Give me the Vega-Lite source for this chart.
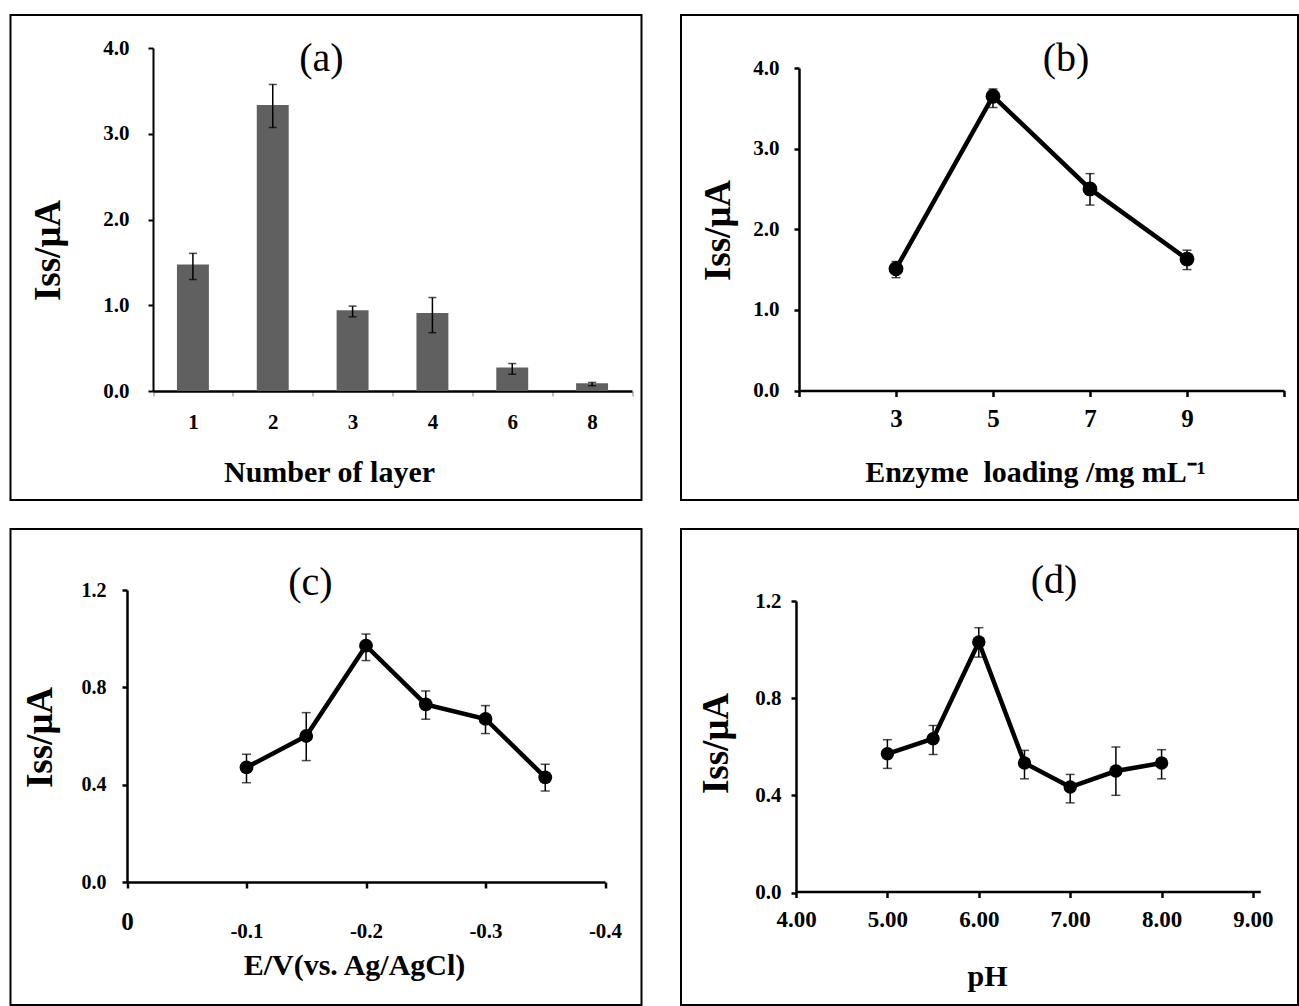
{
  "$schema": "https://vega.github.io/schema/vega-lite/v6.json",
  "padding": {"left": 9.5, "top": 14, "right": 0, "bottom": 0},
  "background": "white",
  "datasets": {
    "a": [
      {"layer": "1", "v": 1.476, "lo": 1.30, "hi": 1.605},
      {"layer": "2", "v": 3.334, "lo": 3.073, "hi": 3.575},
      {"layer": "3", "v": 0.943, "lo": 0.865, "hi": 0.99},
      {"layer": "4", "v": 0.911, "lo": 0.68, "hi": 1.09},
      {"layer": "6", "v": 0.273, "lo": 0.195, "hi": 0.32},
      {"layer": "8", "v": 0.09, "lo": 0.062, "hi": 0.10}
    ],
    "b": [
      {"x": 3, "v": 1.51, "lo": 1.40, "hi": 1.60},
      {"x": 5, "v": 3.65, "lo": 3.51, "hi": 3.74},
      {"x": 7, "v": 2.50, "lo": 2.30, "hi": 2.69},
      {"x": 9, "v": 1.63, "lo": 1.50, "hi": 1.74}
    ],
    "c": [
      {"e": -0.10, "v": 0.471, "lo": 0.408, "hi": 0.525},
      {"e": -0.15, "v": 0.600, "lo": 0.499, "hi": 0.696},
      {"e": -0.20, "v": 0.971, "lo": 0.910, "hi": 1.019},
      {"e": -0.25, "v": 0.730, "lo": 0.669, "hi": 0.785},
      {"e": -0.30, "v": 0.670, "lo": 0.610, "hi": 0.725},
      {"e": -0.35, "v": 0.430, "lo": 0.374, "hi": 0.484}
    ],
    "d": [
      {"ph": 5.0, "v": 0.571, "lo": 0.511, "hi": 0.629},
      {"ph": 5.5, "v": 0.633, "lo": 0.568, "hi": 0.687},
      {"ph": 6.0, "v": 1.031, "lo": 0.969, "hi": 1.090},
      {"ph": 6.5, "v": 0.533, "lo": 0.468, "hi": 0.585},
      {"ph": 7.0, "v": 0.434, "lo": 0.369, "hi": 0.486},
      {"ph": 7.5, "v": 0.500, "lo": 0.400, "hi": 0.599},
      {"ph": 8.0, "v": 0.533, "lo": 0.468, "hi": 0.588}
    ]
  },
  "columns": 2,
  "spacing": {"column": 37.5, "row": 27},
  "concat": [
    {
      "width": 631, "height": 485,
      "title": {"text": "(a)", "frame": "group", "anchor": "start", "align": "center", "baseline": "middle", "offset": 0, "dx": 311, "dy": 84, "fontSize": 40},
      "data": {"name": "a"},
      "layer": [
        {
          "mark": {"type": "bar", "color": "#606060", "width": {"band": 0.4}},
          "encoding": {
            "x": {"field": "layer", "type": "ordinal", "title": "Number of layer",
              "scale": {"range": [142.5, 621.5], "paddingInner": 0, "paddingOuter": 0},
              "axis": {"offset": -109, "tickBand": "extent", "labelAngle": 0, "domainWidth": 2.5, "tickColor": "#808080", "tickWidth": 1, "tickSize": 5, "labelPadding": 15, "labelFontSize": 21, "titleX": 318.5, "titleY": 81, "titleBaseline": "middle", "titleAlign": "center", "titleFontSize": 30}},
            "y": {"field": "v", "type": "quantitative", "title": "Iss/μA",
              "scale": {"domain": [0, 4], "range": [376, 33], "nice": false},
              "axis": {"offset": -142.5, "values": [0, 1, 2, 3, 4], "format": ".1f", "domainWidth": 2, "tickWidth": 2, "tickSize": 5, "labelPadding": 19, "labelFontSize": 21, "titleX": -105, "titleY": 235, "titleAngle": -90, "titleBaseline": "middle", "titleAlign": "center", "titleFontSize": 37}}
          }
        },
        {
          "mark": {"type": "errorbar", "color": "black", "thickness": 1.5, "ticks": {"size": 8}},
          "encoding": {
            "x": {"field": "layer", "type": "ordinal", "title": "Number of layer"},
            "y": {"field": "lo", "type": "quantitative", "title": "Iss/μA"},
            "y2": {"field": "hi"}
          }
        }
      ]
    },
    {
      "width": 617, "height": 485,
      "title": {"text": "(b)", "frame": "group", "anchor": "start", "align": "center", "baseline": "middle", "offset": 0, "dx": 385, "dy": 84, "fontSize": 40},
      "data": {"name": "b"},
      "encoding": {
        "x": {"field": "x", "type": "quantitative", "title": "Enzyme\u00a0 loading /mg mL⁻¹",
          "scale": {"domain": [1, 11], "range": [118, 603], "nice": false, "zero": false},
          "axis": {"offset": -109.5, "values": [1, 3, 5, 7, 9, 11], "labelExpr": "datum.value == 1 || datum.value == 11 ? '' : datum.label", "domainWidth": 2.5, "tickWidth": 2.5, "tickSize": 6, "labelPadding": 10, "labelFontSize": 25, "titleX": 354, "titleY": 82, "titleBaseline": "middle", "titleAlign": "center", "titleFontSize": 30}},
        "y": {"field": "v", "type": "quantitative", "title": "Iss/μA",
          "scale": {"domain": [0, 4], "range": [375.5, 53], "nice": false},
          "axis": {"offset": -118, "values": [0, 1, 2, 3, 4], "format": ".1f", "domainWidth": 2.5, "tickWidth": 2.5, "tickSize": 5, "labelPadding": 15, "labelFontSize": 21, "titleX": -81, "titleY": 215, "titleAngle": -90, "titleBaseline": "middle", "titleAlign": "center", "titleFontSize": 37}}
      },
      "layer": [
        {"mark": {"type": "line", "color": "black", "strokeWidth": 4.5}},
        {"mark": {"type": "errorbar", "color": "black", "thickness": 1.5, "ticks": {"size": 9}},
          "encoding": {"y": {"field": "lo", "type": "quantitative", "title": "Iss/μA"}, "y2": {"field": "hi"}}},
        {"mark": {"type": "point", "filled": true, "color": "black", "opacity": 1, "size": 220}}
      ]
    },
    {
      "width": 631, "height": 476,
      "title": {"text": "(c)", "frame": "group", "anchor": "start", "align": "center", "baseline": "middle", "offset": 0, "dx": 300, "dy": 94, "fontSize": 40},
      "data": {"name": "c"},
      "encoding": {
        "x": {"field": "e", "type": "quantitative", "title": "E/V(vs. Ag/AgCl)",
          "scale": {"domain": [-0.4, 0], "range": [116.5, 594.5], "reverse": true, "nice": false, "zero": false},
          "axis": {"offset": -123, "values": [0, -0.1, -0.2, -0.3, -0.4], "labelExpr": "datum.value == 0 ? '0' : '-' + format(-datum.value, '.1f')",
            "labelFontSize": {"condition": {"test": "datum.value == 0", "value": 25}, "value": 21},
            "labelPadding": {"condition": {"test": "datum.value == 0", "value": 21}, "value": 32},
            "domainWidth": 2.5, "tickWidth": 2.5, "tickSize": 6, "titleX": 343.5, "titleY": 83, "titleBaseline": "middle", "titleAlign": "center", "titleFontSize": 30}},
        "y": {"field": "v", "type": "quantitative", "title": "Iss/μA",
          "scale": {"domain": [0, 1.2], "range": [353, 61], "nice": false},
          "axis": {"offset": -116.5, "values": [0, 0.4, 0.8, 1.2], "format": ".1f", "domainWidth": 2.5, "tickWidth": 2.5, "tickSize": 5, "labelPadding": 16, "labelFontSize": 20, "titleX": -87, "titleY": 208, "titleAngle": -90, "titleBaseline": "middle", "titleAlign": "center", "titleFontSize": 37}}
      },
      "layer": [
        {"mark": {"type": "line", "color": "black", "strokeWidth": 4.5}},
        {"mark": {"type": "errorbar", "color": "black", "thickness": 1.5, "ticks": {"size": 9}},
          "encoding": {"y": {"field": "lo", "type": "quantitative", "title": "Iss/μA"}, "y2": {"field": "hi"}}},
        {"mark": {"type": "point", "filled": true, "color": "black", "opacity": 1, "size": 190}}
      ]
    },
    {
      "width": 617, "height": 476,
      "title": {"text": "(d)", "frame": "group", "anchor": "start", "align": "center", "baseline": "middle", "offset": 0, "dx": 373, "dy": 92, "fontSize": 40},
      "data": {"name": "d"},
      "encoding": {
        "x": {"field": "ph", "type": "quantitative", "title": "pH",
          "scale": {"domain": [4, 9.08], "range": [115, 579.3], "nice": false, "zero": false},
          "axis": {"offset": -113.5, "values": [4, 5, 6, 7, 8, 9], "format": ".2f", "domainWidth": 2.5, "tickWidth": 2.5, "tickSize": 6, "labelPadding": 11, "labelFontSize": 23, "titleX": 306, "titleY": 85, "titleBaseline": "middle", "titleAlign": "center", "titleFontSize": 30}},
        "y": {"field": "v", "type": "quantitative", "title": "Iss/μA",
          "scale": {"domain": [0, 1.2], "range": [363.5, 72], "nice": false},
          "axis": {"offset": -115, "values": [0, 0.4, 0.8, 1.2], "format": ".1f", "domainWidth": 2.5, "tickWidth": 2.5, "tickSize": 5, "labelPadding": 10, "labelFontSize": 21, "titleX": -80, "titleY": 214, "titleAngle": -90, "titleBaseline": "middle", "titleAlign": "center", "titleFontSize": 37}}
      },
      "layer": [
        {"mark": {"type": "line", "color": "black", "strokeWidth": 4.5}},
        {"mark": {"type": "errorbar", "color": "black", "thickness": 1.5, "ticks": {"size": 9}},
          "encoding": {"y": {"field": "lo", "type": "quantitative", "title": "Iss/μA"}, "y2": {"field": "hi"}}},
        {"mark": {"type": "point", "filled": true, "color": "black", "opacity": 1, "size": 180}}
      ]
    }
  ],
  "config": {
    "view": {"stroke": "black", "strokeWidth": 2},
    "axis": {"grid": false, "labelFont": "Liberation Serif", "labelFontWeight": "bold", "labelColor": "black", "titleFont": "Liberation Serif", "titleFontWeight": "bold", "titleColor": "black", "domainColor": "black", "tickColor": "black", "labelOverlap": false, "labelFlush": false},
    "title": {"font": "Liberation Serif", "fontWeight": "normal", "color": "black"}
  }
}
